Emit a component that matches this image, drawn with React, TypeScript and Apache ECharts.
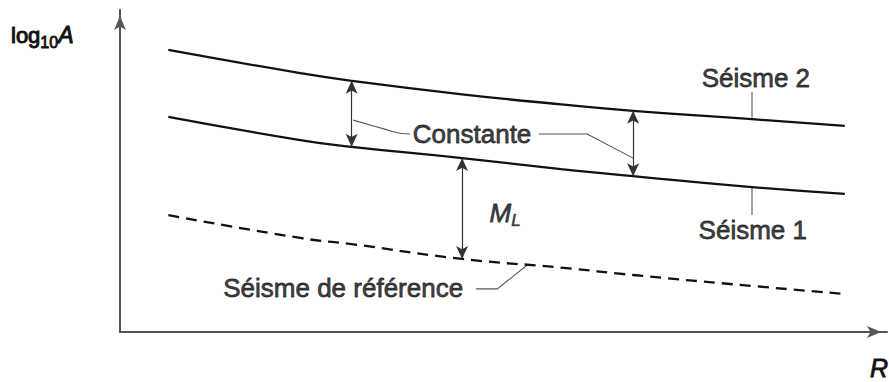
import React, { useEffect, useRef } from "react";
import * as echarts from "echarts";

// Distance R (arbitrary units) and log10 A (arbitrary units)
const distance = [6.3, 23.5, 30.2, 44.6, 57.5, 66.9, 82.4, 94.5];
const seisme2 = [8.76, 8.04, 7.8, 7.38, 7.07, 6.87, 6.61, 6.4];
const seisme1 = [6.68, 5.96, 5.75, 5.4, 5.06, 4.84, 4.5, 4.29];
const reference = [3.63, 2.92, 2.73, 2.27, 2.0, 1.77, 1.43, 1.18];

// indices (into distance) where the double arrows are drawn
const constantArrowIdx = [2, 5];
const mlArrowIdx = 3;

// leader lines (data coordinates)
const leaderConstLeft = [[30.4, 6.58], [34.5, 6.3], [36.5, 6.17], [37.8, 6.15]];
const leaderConstRight = [[54.6, 6.15], [60.9, 6.15], [66.9, 5.4]];
const leaderS2 = [[82.4, 7.45], [82.4, 6.65]];
const leaderS1 = [[82.4, 4.5], [82.4, 3.63]];
const leaderRef = [[46.4, 1.34], [49.2, 1.34], [53.1, 2.08]];

// text annotations (data coordinates)
const annotations = [
  { name: "Constante", value: [45.9, 6.15], text: "Constante" },
  { name: "ML", value: [50.2, 3.7], text: "{m|M}{s|L}" },
  { name: "Séisme 2", value: [82.9, 7.89], text: "Séisme 2" },
  { name: "Séisme 1", value: [82.5, 3.17], text: "Séisme 1" },
  { name: "Séisme de référence", value: [29.1, 1.37], text: "Séisme de référence" },
];

const INK = "#111111";
const FONT = "Liberation Sans, Arial, sans-serif";

export default function App() {
  const ref = useRef<HTMLDivElement>(null);
  useEffect(() => {
    if (!ref.current) return;
    const chart = echarts.init(ref.current, undefined, { renderer: "svg" });
    const curve = (name: string, ys: number[], dashed: boolean) => ({
      name,
      type: "line",
      data: distance.map((x, i) => [x, ys[i]]),
      smooth: 0.5,
      symbol: "none",
      lineStyle: { color: INK, width: 2.3, type: dashed ? [11, 7] : "solid" },
      silent: true,
      z: 3,
    });
    const leader = (pts: number[][], smooth = false) => ({
      type: "line",
      data: pts,
      smooth: smooth ? 0.4 : false,
      symbol: "none",
      lineStyle: { color: "#555", width: 1.1 },
      silent: true,
      z: 2,
    });
    const arrowLines = [
      ...constantArrowIdx.map((i) => [
        { coord: [distance[i], seisme2[i]] },
        { coord: [distance[i], seisme1[i]] },
      ]),
      [
        { coord: [distance[mlArrowIdx], seisme1[mlArrowIdx]] },
        { coord: [distance[mlArrowIdx], reference[mlArrowIdx]] },
      ],
    ];
    const heavy = { textBorderColor: INK, textBorderWidth: 0.8 };
    chart.setOption({
      animation: false,
      backgroundColor: "#ffffff",
      grid: { left: 120, right: 2, top: 10, bottom: 50 },
      xAxis: {
        type: "value",
        min: 0,
        max: 100,
        axisLine: {
          show: true,
          symbol: ["none", "arrow"],
          symbolSize: [9, 14],
          symbolOffset: [0, -6],
          lineStyle: { color: "#555", width: 2 },
        },
        axisTick: { show: false },
        axisLabel: { show: false },
        splitLine: { show: false },
      },
      yAxis: {
        type: "value",
        min: 0,
        max: 10,
        axisLine: {
          show: true,
          symbol: ["none", "arrow"],
          symbolSize: [9, 14],
          symbolOffset: [0, -6],
          lineStyle: { color: "#555", width: 2 },
        },
        axisTick: { show: false },
        axisLabel: { show: false },
        splitLine: { show: false },
      },
      series: [
        curve("Séisme 2", seisme2, false),
        curve("Séisme 1", seisme1, false),
        {
          ...curve("Séisme de référence", reference, true),
          markLine: {
            silent: true,
            symbol: ["arrow", "arrow"],
            symbolSize: [9, 13],
            label: { show: false },
            lineStyle: { color: "#333", width: 1.2, type: "solid" },
            data: arrowLines,
          },
        },
        leader(leaderConstLeft, true),
        leader(leaderConstRight),
        leader(leaderS2),
        leader(leaderS1),
        leader(leaderRef),
        {
          type: "scatter",
          data: annotations.map((a) => ({ name: a.name, value: a.value, text: a.text })),
          symbolSize: 0,
          silent: true,
          z: 5,
          label: {
            show: true,
            position: "inside",
            formatter: (p: any) => p.data.text,
            color: INK,
            fontFamily: FONT,
            fontSize: 26,
            ...heavy,
            rich: {
              m: { fontFamily: FONT, fontSize: 26, fontStyle: "italic", color: INK, ...heavy },
              s: { fontFamily: FONT, fontSize: 17, fontStyle: "italic", color: INK, padding: [16, 0, 0, 0], textBorderColor: INK, textBorderWidth: 0.6 },
            },
          },
        },
      ],
      graphic: [
        {
          type: "text",
          x: 11,
          y: 20,
          style: {
            text: "{a|log}{b|10}{c|A}",
            fill: INK,
            rich: {
              a: { fontFamily: FONT, fontSize: 22, fill: INK, stroke: INK, lineWidth: 1 },
              b: { fontFamily: FONT, fontSize: 16, fill: INK, padding: [14, 0, 0, 0], stroke: INK, lineWidth: 0.8 },
              c: { fontFamily: FONT, fontSize: 23, fontStyle: "italic", fill: INK, stroke: INK, lineWidth: 1 },
            },
          },
        },
        {
          type: "text",
          x: 870,
          y: 355,
          style: {
            text: "R",
            fontFamily: FONT,
            fontSize: 25,
            fontStyle: "italic",
            fill: INK,
            stroke: INK,
            lineWidth: 0.8,
          },
        },
      ],
    });
    return () => chart.dispose();
  }, []);
  return (
    <div
      ref={ref}
      style={{ position: "fixed", left: 0, top: 0, width: 889, height: 382, background: "#fff" }}
    />
  );
}
